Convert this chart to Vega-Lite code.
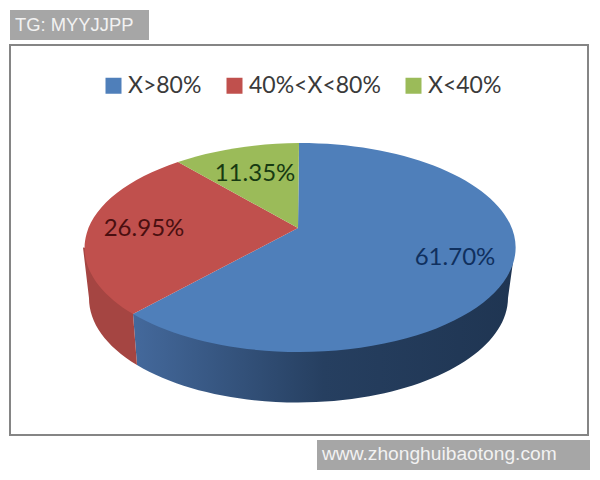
{
  "$schema": "https://vega.github.io/schema/vega-lite/v6.json",
  "width": 578,
  "height": 390,
  "autosize": "none",
  "padding": {"left": 10, "top": 45, "right": 12, "bottom": 45},
  "background": "white",
  "view": {"stroke": "#858585", "strokeWidth": 2, "fill": "white"},
  "data": {"values": [
    {"category": "X>80%", "value": 0.617},
    {"category": "40%<X<80%", "value": 0.2695},
    {"category": "X<40%", "value": 0.1135}
  ]},
  "layer": [
    {
      "mark": {"type": "square", "size": 1, "opacity": 1},
      "encoding": {
        "color": {"field": "category", "type": "nominal",
          "scale": {"domain": ["X>80%", "40%<X<80%", "X<40%"], "range": ["#4f7fba", "#c0504d", "#9bbb59"]},
          "legend": {"title": null, "orient": "none", "legendX": 92, "legendY": 29, "direction": "horizontal", "columns": 3,
            "symbolType": "square", "symbolSize": 256, "symbolOpacity": 1, "symbolStrokeWidth": 0,
            "labelFont": "Lato", "labelFontSize": 23, "labelColor": "#3a3a3a", "labelOffset": 3, "columnPadding": 21, "labelLimit": 300, "symbolOffset": 0, "padding": 0}}
      }
    },
    {
      "transform": [{"filter": "datum.category === 'X>80%'"}],
      "mark": {"type": "point", "filled": true, "opacity": 1, "size": 4,
        "shape": "M216,7.5 L-166,74 L-162,125 A210,105 0 0 0 209,58 Z",
        "fill": {"gradient": "linear", "x1": 0, "y1": 0, "x2": 1, "y2": 0, "stops": [
          {"offset": 0, "color": "#44699c"},
          {"offset": 0.5, "color": "#263f60"},
          {"offset": 1, "color": "#1f3552"}
        ]}}
    },
    {
      "transform": [{"filter": "datum.category === '40%<X<80%'"}],
      "mark": {"type": "point", "filled": true, "opacity": 1, "size": 4,
        "shape": "M-216,7.5 L-140,20 L-166,74 L-162,125 A210,105 0 0 1 -210,58 Z",
        "fill": "#a54542"}
    },
    {
      "transform": [{"filter": "datum.category === 'X>80%'"}],
      "mark": {"type": "point", "filled": true, "opacity": 1, "size": 4, "fill": "#4f7fba",
        "shape": "M-1,-12 L0,-97 A216,104.5 0 1 1 -166,74 Z"}
    },
    {
      "transform": [{"filter": "datum.category === '40%<X<80%'"}],
      "mark": {"type": "point", "filled": true, "opacity": 1, "size": 4, "fill": "#c0504d",
        "shape": "M-1,-12 L-166,74 A216,104.5 0 0 1 -121,-78 Z"}
    },
    {
      "transform": [{"filter": "datum.category === 'X<40%'"}],
      "mark": {"type": "point", "filled": true, "opacity": 1, "size": 4, "fill": "#9bbb59",
        "shape": "M-1,-12 L-121,-78 A216,104.5 0 0 1 0,-97 Z"}
    },
    {
      "transform": [{"filter": "datum.category === 'X>80%'"}],
      "mark": {"type": "text", "font": "Lato", "fontSize": 24, "color": "#10305e", "dx": 156, "dy": 18},
      "encoding": {"text": {"field": "value", "type": "quantitative", "format": ".2%"}}
    },
    {
      "transform": [{"filter": "datum.category === '40%<X<80%'"}],
      "mark": {"type": "text", "font": "Lato", "fontSize": 24, "color": "#4a0f10", "dx": -155, "dy": -11},
      "encoding": {"text": {"field": "value", "type": "quantitative", "format": ".2%"}}
    },
    {
      "transform": [{"filter": "datum.category === 'X<40%'"}],
      "mark": {"type": "text", "font": "Lato", "fontSize": 24, "color": "#173a12", "dx": -44, "dy": -66},
      "encoding": {"text": {"field": "value", "type": "quantitative", "format": ".2%"}}
    },
    {
      "data": {"values": [{"note": "TG: MYYJJPP"}]},
      "mark": {"type": "point", "filled": true, "opacity": 1, "size": 4, "fill": "#a6a6a6",
        "shape": "M-289,-230 L-150,-230 L-150,-200 L-289,-200 Z"}
    },
    {
      "data": {"values": [{"note": "TG: MYYJJPP"}]},
      "mark": {"type": "text", "font": "Liberation Sans", "fontSize": 18.4, "color": "#f2f2f2", "align": "left", "dx": -284, "dy": -215},
      "encoding": {"text": {"field": "note", "type": "nominal"}}
    },
    {
      "data": {"values": [{"note": "www.zhonghuibaotong.com"}]},
      "mark": {"type": "point", "filled": true, "opacity": 1, "size": 4, "fill": "#a6a6a6",
        "shape": "M18,200 L291,200 L291,230 L18,230 Z"}
    },
    {
      "data": {"values": [{"note": "www.zhonghuibaotong.com"}]},
      "mark": {"type": "text", "font": "Liberation Sans", "fontSize": 19.2, "color": "#f2f2f2", "align": "left", "dx": 23, "dy": 214},
      "encoding": {"text": {"field": "note", "type": "nominal"}}
    }
  ]
}
